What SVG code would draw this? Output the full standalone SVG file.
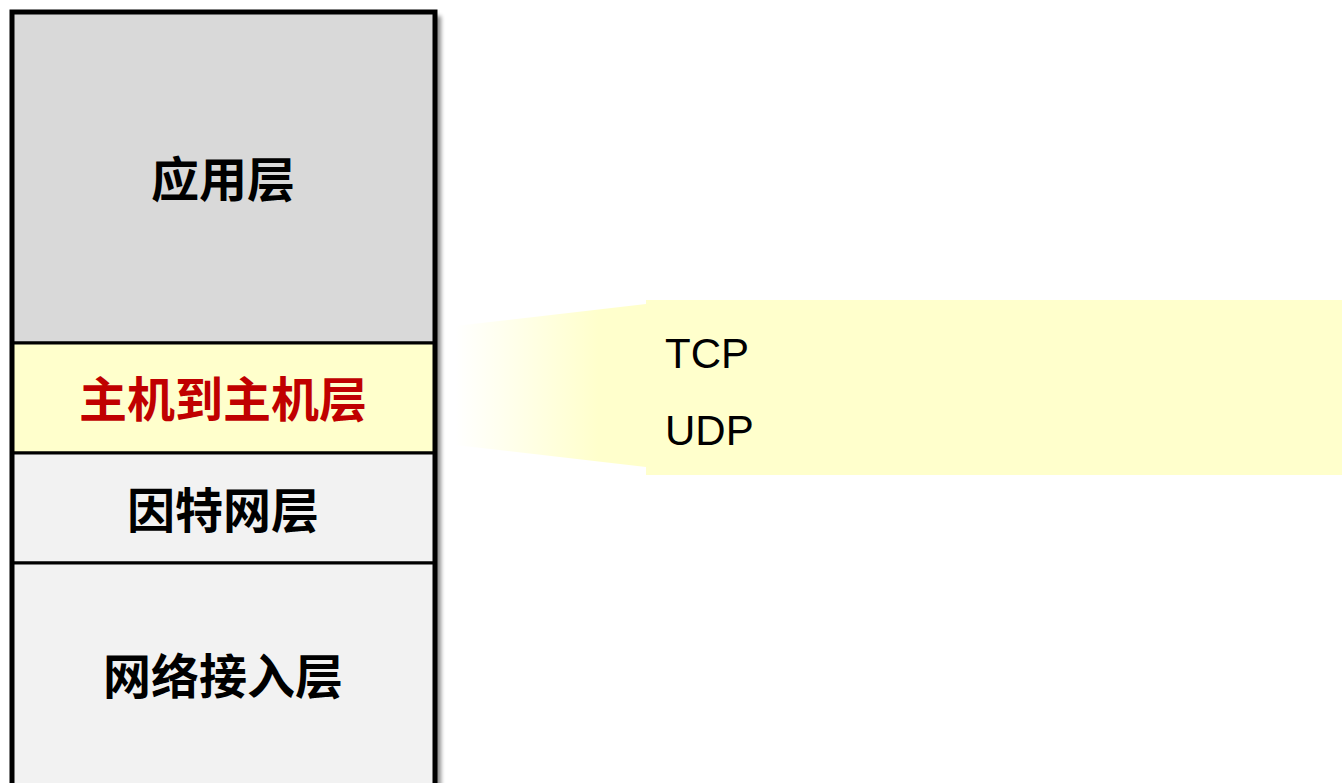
<svg xmlns="http://www.w3.org/2000/svg" width="1342" height="783" viewBox="0 0 1342 783">
<defs>
<linearGradient id="fade" x1="455" y1="0" x2="646" y2="0" gradientUnits="userSpaceOnUse">
<stop offset="0" stop-color="#FFFFCC" stop-opacity="0"/>
<stop offset="0.75" stop-color="#FFFFCC" stop-opacity="1"/>
</linearGradient>
<filter id="sh" x="-5%" y="-5%" width="115%" height="115%">
<feGaussianBlur in="SourceAlpha" stdDeviation="2"/>
<feOffset dx="6" dy="4"/>
<feComponentTransfer><feFuncA type="linear" slope="0.45"/></feComponentTransfer>
<feMerge><feMergeNode/><feMergeNode in="SourceGraphic"/></feMerge>
</filter>
</defs>
<style>
.layer{stroke:#000;stroke-width:3}
.cn{font-family:"Liberation Sans","Noto Sans CJK SC",sans-serif;font-weight:bold;font-size:48px;text-anchor:middle}
.en{font-family:"Liberation Sans",Arial,sans-serif;font-size:42px;fill:#000}
</style>
<rect x="12" y="12" width="423" height="775" fill="#F2F2F2" filter="url(#sh)"/>
<g id="app"><rect class="layer" x="12" y="12" width="423" height="331" fill="#D9D9D9"/><text class="cn" x="223" y="197" fill="#000">应用层</text></g>
<g id="host"><rect class="layer" x="12" y="343" width="423" height="110" fill="#FFFFCC"/><text class="cn" x="223" y="417" fill="#C00000">主机到主机层</text></g>
<g id="internet"><rect class="layer" x="12" y="453" width="423" height="110" fill="#F2F2F2"/><text class="cn" x="223" y="528" fill="#000">因特网层</text></g>
<g id="netaccess"><rect class="layer" x="12" y="563" width="423" height="230" fill="#F2F2F2"/><text class="cn" x="223" y="694" fill="#000">网络接入层</text></g>
<rect x="12" y="12" width="423" height="780" fill="none" stroke="#000" stroke-width="5"/>
<g id="callout">
<polygon points="455,326 646,304 646,467 455,445" fill="url(#fade)"/>
<rect x="646" y="300" width="696" height="175" fill="#FFFFCC"/>
<text class="en" x="665" y="368">TCP</text>
<text class="en" x="665" y="445">UDP</text>
</g>
<g id="connectors"></g>
</svg>
